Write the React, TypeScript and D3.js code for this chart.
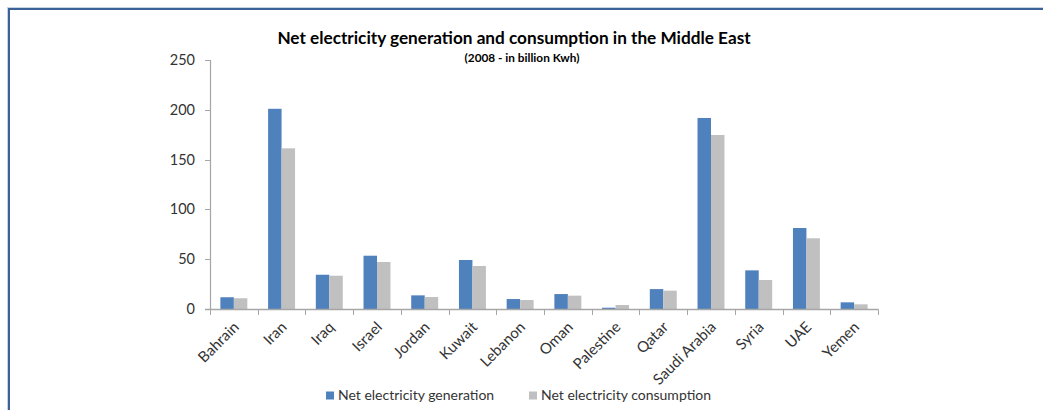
import React from "react";
import * as d3 from "d3";

const countries = [
  "Bahrain", "Iran", "Iraq", "Israel", "Jordan", "Kuwait", "Lebanon",
  "Oman", "Palestine", "Qatar", "Saudi Arabia", "Syria", "UAE", "Yemen",
];
const generation = [11.8, 201, 34.4, 53.5, 13.7, 49.2, 10, 15, 1.3, 20, 191.8, 38.8, 81.3, 6.7];
const consumption = [10.8, 161.3, 33.4, 47.2, 12, 43.2, 9, 13.4, 4, 18.4, 174.7, 29.1, 71, 4.7];
const seriesNames = ["Net electricity generation", "Net electricity consumption"];
const seriesColors = ["#4f81bd", "#c0c0c0"];
const yTicks = [0, 50, 100, 150, 200, 250];

const W = 1043;
const H = 410;
const FONT = "Lato, 'Open Sans', sans-serif";

export default function App() {
  const x = d3.scaleBand<string>().domain(countries).range([210, 878]).padding(0);
  const x1 = d3
    .scaleBand<string>()
    .domain(seriesNames)
    .range([0, x.bandwidth()])
    .paddingInner(0)
    .paddingOuter(0.77);
  const y = d3.scaleLinear().domain([0, 250]).range([309, 60]);
  const values = [generation, consumption];
  const axisColor = "#a6a6a6";

  return (
    <svg
      width={W}
      height={H}
      viewBox={`0 0 ${W} ${H}`}
      style={{ position: "absolute", left: 0, top: 0, background: "#fff" }}
    >
      <rect x={0} y={0} width={W} height={H} fill="#fff" />
      {/* frame */}
      <rect x={7.5} y={7.5} width={1200} height={600} fill="none" stroke="#c6d4e6" strokeWidth={1} />
      <rect x={9} y={9} width={1200} height={600} fill="none" stroke="#3b6296" strokeWidth={2} />

      {/* title */}
      <text x={514} y={43.5} textAnchor="middle" fontFamily={FONT} fontWeight="bold" fontSize={17.2} fill="#000">
        Net electricity generation and consumption in the Middle East
      </text>
      <text x={522} y={62} textAnchor="middle" fontFamily={FONT} fontWeight="bold" fontSize={11.8} fill="#000">
        (2008 - in billion Kwh)
      </text>

      {/* bars */}
      {countries.map((c, i) => (
        <g key={c} transform={`translate(${x(c)},0)`}>
          {seriesNames.map((s, k) => (
            <rect
              key={s}
              x={x1(s)}
              y={y(values[k][i])}
              width={x1.bandwidth()}
              height={y(0) - y(values[k][i])}
              fill={seriesColors[k]}
            />
          ))}
        </g>
      ))}

      {/* y axis */}
      <line x1={210.5} x2={210.5} y1={y(250)} y2={y(0)} stroke={axisColor} strokeWidth={1.2} />
      {yTicks.map((t) => (
        <g key={t}>
          <line x1={205} x2={210.5} y1={Math.round(y(t)) + 0.5} y2={Math.round(y(t)) + 0.5} stroke={axisColor} />
          <text x={195} y={y(t) + 5} textAnchor="end" fontFamily={FONT} fontSize={14.5} fill="#333">
            {t}
          </text>
        </g>
      ))}

      {/* x axis */}
      <line x1={205} x2={878.5} y1={309.5} y2={309.5} stroke={axisColor} strokeWidth={1.5} />
      {[...countries.map((c) => x(c) as number), 878].map((px, i) => (
        <line key={i} x1={Math.round(px) + 0.5} x2={Math.round(px) + 0.5} y1={309.5} y2={315} stroke={axisColor} />
      ))}
      {countries.map((c) => {
        const cx = (x(c) as number) + x.bandwidth() / 2 + 6;
        const cy = 328;
        return (
          <text
            key={c}
            x={cx}
            y={cy}
            textAnchor="end"
            transform={`rotate(-45 ${cx} ${cy})`}
            fontFamily={FONT}
            fontSize={15}
            fill="#333"
          >
            {c}
          </text>
        );
      })}

      {/* legend */}
      {seriesNames.map((s, k) => {
        const lx = k === 0 ? 326 : 529;
        return (
          <g key={s}>
            <rect x={lx} y={391.5} width={8} height={8} fill={seriesColors[k]} />
            <text x={lx + 12} y={400} fontFamily={FONT} fontSize={14} fill="#333">
              {s}
            </text>
          </g>
        );
      })}
    </svg>
  );
}
